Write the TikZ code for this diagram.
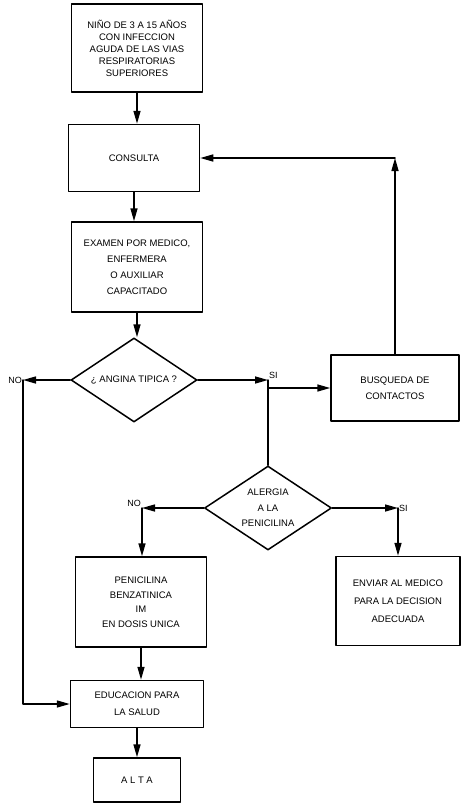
\documentclass[tikz,border=0pt]{standalone}
\usepackage{fontspec}
\setmainfont{Liberation Sans}
\usetikzlibrary{arrows.meta,shapes.geometric}

\begin{document}
\begin{tikzpicture}[line cap=round,line join=round,>={Triangle[length=13pt,width=7pt]},x=1pt,y=-1pt,
	caja/.style={draw,line width=1.5pt,align=center,inner sep=0pt,font=\fontsize{9.5}{16}\selectfont},
	rombo/.style={draw,diamond,aspect=1.5,line width=1.5pt,align=center,inner sep=0pt,font=\fontsize{9.5}{15.5}\selectfont},
	flecha/.style={->,line width=1.5pt},
	linea/.style={line width=1.5pt},
	rotulo/.style={font=\fontsize{9}{10}\selectfont,inner sep=1pt}]
	\useasboundingbox (0,0) rectangle (462,803);
	% columna principal
	\node[caja,minimum width=131,minimum height=88,font=\fontsize{9.5}{12}\selectfont] (inicio) at (137,48) {NIÑO DE 3 A 15 AÑOS\\CON INFECCION\\AGUDA DE LAS VIAS\\RESPIRATORIAS\\SUPERIORES};
	\node[caja,minimum width=131,minimum height=67] (consulta) at (134,158) {CONSULTA};
	\node[caja,minimum width=131,minimum height=90] (examen) at (137,267) {EXAMEN POR MEDICO,\\ENFERMERA\\O AUXILIAR\\CAPACITADO};
	\node[rombo,minimum width=126,minimum height=84] (angina) at (134,380) {¿ ANGINA TIPICA ?};
	\node[caja,minimum width=128,minimum height=66] (busqueda) at (395,388) {BUSQUEDA DE\\CONTACTOS};
	\node[rombo,minimum width=127,minimum height=84] (alergia) at (268,508) {ALERGIA\\A LA\\PENICILINA};
	\node[caja,minimum width=131,minimum height=90,font=\fontsize{9.5}{14.5}\selectfont] (penicilina) at (141,602) {PENICILINA\\BENZATINICA\\IM\\EN DOSIS UNICA};
	\node[caja,minimum width=124,minimum height=89,font=\fontsize{9.5}{18}\selectfont] (enviar) at (398,601) {ENVIAR AL MEDICO\\PARA LA DECISION\\ADECUADA};
	\node[caja,minimum width=133,minimum height=47,font=\fontsize{9.5}{17}\selectfont] (educacion) at (137,704) {EDUCACION PARA\\LA SALUD};
	\node[caja,minimum width=87,minimum height=44] (alta) at (137,780) {A L T A};
	% esquinas
	\coordinate (no1) at (23,380);
	\coordinate (si1) at (268,380);
	\coordinate (no2) at (142,508);
	\coordinate (si2) at (398,508);
	\coordinate (vuelta) at (busqueda.north |- consulta.east);
	% conectores
	\draw[flecha] (inicio.south) -- (inicio.south |- consulta.north);
	\draw[flecha] (consulta.south) -- (consulta.south |- examen.north);
	\draw[flecha] (examen.south) -- (examen.south |- angina.north);
	\draw[flecha] (angina.west) -- (no1);
	\draw[flecha] (no1) |- (educacion.west);
	\draw[flecha] (angina.east) -- (si1);
	\draw[linea] (si1) -- (alergia.north);
	\draw[flecha] (si1 |- busqueda.west) -- (busqueda.west);
	\draw[flecha] (busqueda.north) -- (vuelta);
	\draw[flecha] (vuelta) -- (consulta.east);
	\draw[flecha] (alergia.west) -- (no2);
	\draw[flecha] (no2) -- (no2 |- penicilina.north);
	\draw[flecha] (alergia.east) -- (si2);
	\draw[flecha] (si2) -- (enviar.north);
	\draw[flecha] (penicilina.south) -- (penicilina.south |- educacion.north);
	\draw[flecha] (educacion.south) -- (educacion.south |- alta.north);
	% rotulos
	\node[rotulo,left] (lno1) at (no1) {NO};
	\node[rotulo,above right] (lsi1) at (si1) {SI};
	\node[rotulo,above left] (lno2) at (no2) {NO};
	\node[rotulo,right] (lsi2) at (si2) {SI};
\end{tikzpicture}
\end{document}
